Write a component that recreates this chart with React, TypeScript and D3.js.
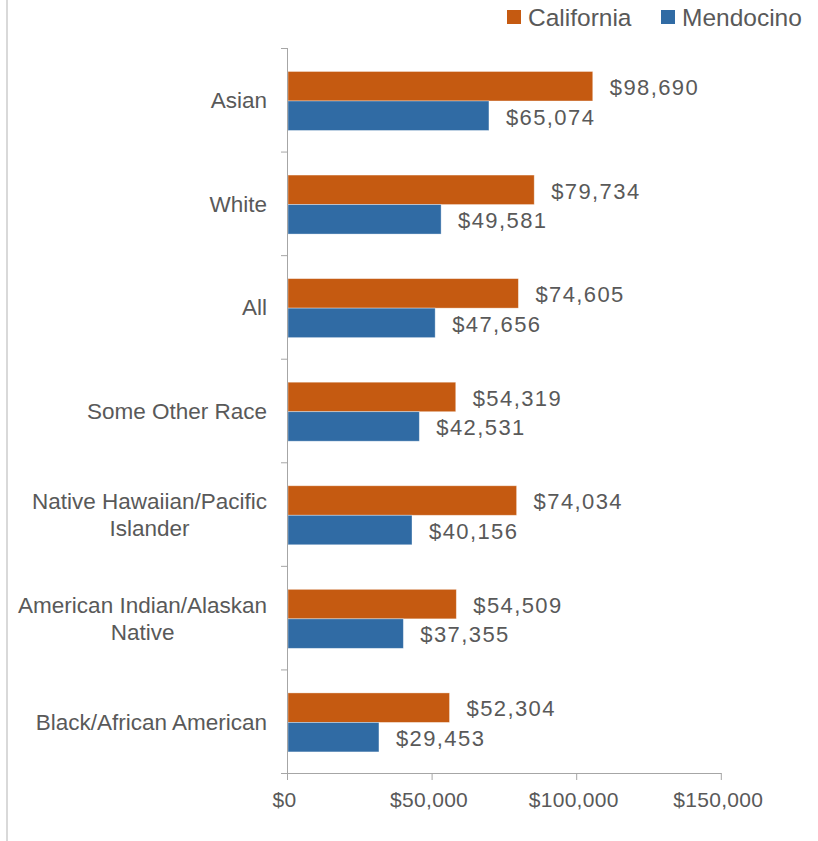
import React, { useEffect, useRef } from "react";
import * as d3 from "d3";

const categories = [
  "Asian",
  "White",
  "All",
  "Some Other Race",
  "Native Hawaiian/Pacific Islander",
  "American Indian/Alaskan Native",
  "Black/African American",
];
const categoryLines = [
  ["Asian"],
  ["White"],
  ["All"],
  ["Some Other Race"],
  ["Native Hawaiian/Pacific", "Islander"],
  ["American Indian/Alaskan", "Native"],
  ["Black/African American"],
];
const seriesNames = ["California", "Mendocino"];
const california = [98690, 79734, 74605, 54319, 74034, 54509, 52304];
const mendocino = [65074, 49581, 47656, 42531, 40156, 37355, 29453];
const xTicks = [0, 50000, 100000, 150000];

const W = 818;
const H = 841;
const COLORS = ["#C55A11", "#306BA4"];
const TEXT = "#595959";
const AXIS = "#a6a6a6";
const FONT = "'Liberation Sans', Arial, sans-serif";

export default function App() {
  const ref = useRef<SVGSVGElement | null>(null);

  useEffect(() => {
    const svg = d3.select(ref.current);
    svg.selectAll("*").remove();

    const top = 48;
    const bottom = 773;
    const axisX = 287.5;

    const y0 = d3.scaleBand<string>().domain(categories).range([top, bottom]);
    const groupH = 59;
    const y1 = d3.scaleBand<string>().domain(seriesNames).range([0, groupH]);
    const xBar = d3.scaleLinear().domain([0, 150000]).range([288, 288 + 150000 * 0.003088]);
    const xAxis = d3.scaleLinear().domain([0, 150000]).range([287.5, 721.3]);

    // left border
    svg.append("line")
      .attr("x1", 7).attr("x2", 7).attr("y1", 0).attr("y2", H)
      .attr("stroke", "#d9d9d9").attr("stroke-width", 2);

    // legend
    const legendX = [507, 661];
    seriesNames.forEach((s, i) => {
      svg.append("rect")
        .attr("x", legendX[i]).attr("y", 10).attr("width", 14).attr("height", 14)
        .attr("fill", COLORS[i]);
      svg.append("text")
        .attr("x", legendX[i] + 21).attr("y", 26)
        .attr("font-family", FONT).attr("font-size", 24.5).attr("fill", TEXT)
        .text(s);
    });

    // bars
    const values = [california, mendocino];
    const g = svg.append("g");
    categories.forEach((c, ci) => {
      const base = (y0(c) as number) + (y0.bandwidth() - groupH) / 2 + 1.2;
      seriesNames.forEach((s, si) => {
        const v = values[si][ci];
        const by = base + (y1(s) as number);
        const bh = y1.bandwidth();
        g.append("rect")
          .attr("x", xBar(0)).attr("y", by)
          .attr("width", xBar(v) - xBar(0)).attr("height", bh)
          .attr("fill", COLORS[si])
          .attr("stroke", "#ffffff").attr("stroke-opacity", 0.45).attr("stroke-width", 0.8);
        g.append("text")
          .attr("x", xBar(v) + 17).attr("y", by + bh / 2 + 8.8)
          .attr("font-family", FONT).attr("font-size", 22).attr("fill", TEXT)
          .attr("letter-spacing", 1.4)
          .text("$" + d3.format(",")(v));
      });
    });

    // y axis
    svg.append("line")
      .attr("x1", axisX).attr("x2", axisX).attr("y1", top).attr("y2", bottom)
      .attr("stroke", AXIS).attr("stroke-width", 1);
    const bounds = categories.map((c) => y0(c) as number).concat([bottom]);
    bounds.forEach((b) => {
      svg.append("line")
        .attr("x1", 281).attr("x2", axisX).attr("y1", b + 0.5).attr("y2", b + 0.5)
        .attr("stroke", AXIS).attr("stroke-width", 1);
    });

    // category labels
    categories.forEach((c, ci) => {
      const lines = categoryLines[ci];
      const cy = (y0(c) as number) + y0.bandwidth() / 2;
      const lh = 27;
      const t = svg.append("text")
        .attr("font-family", FONT).attr("font-size", 22.5).attr("fill", TEXT);
      const spans = lines.map((ln, li) =>
        t.append("tspan")
          .attr("y", cy + 8.5 + (li - (lines.length - 1) / 2) * lh)
          .text(ln)
      );
      const widths = spans.map((sp) => (sp.node() as SVGTSpanElement).getComputedTextLength());
      const maxW = Math.max(...widths);
      const cx = 267 - maxW / 2;
      t.attr("text-anchor", "middle");
      spans.forEach((sp) => sp.attr("x", cx));
    });

    // x axis
    svg.append("line")
      .attr("x1", 281).attr("x2", xAxis(150000)).attr("y1", bottom + 0.5).attr("y2", bottom + 0.5)
      .attr("stroke", AXIS).attr("stroke-width", 1);
    xTicks.forEach((t) => {
      svg.append("line")
        .attr("x1", xAxis(t)).attr("x2", xAxis(t)).attr("y1", bottom).attr("y2", bottom + 7)
        .attr("stroke", AXIS).attr("stroke-width", 1);
      svg.append("text")
        .attr("x", xAxis(t) - 3).attr("y", 806.5)
        .attr("text-anchor", "middle")
        .attr("font-family", FONT).attr("font-size", 21).attr("fill", TEXT)
        .attr("letter-spacing", 0.3)
        .text("$" + d3.format(",")(t));
    });
  }, []);

  return (
    <div style={{ position: "absolute", left: 0, top: 0, width: W, height: H, background: "#fff" }}>
      <svg ref={ref} width={W} height={H} style={{ display: "block" }} />
    </div>
  );
}
